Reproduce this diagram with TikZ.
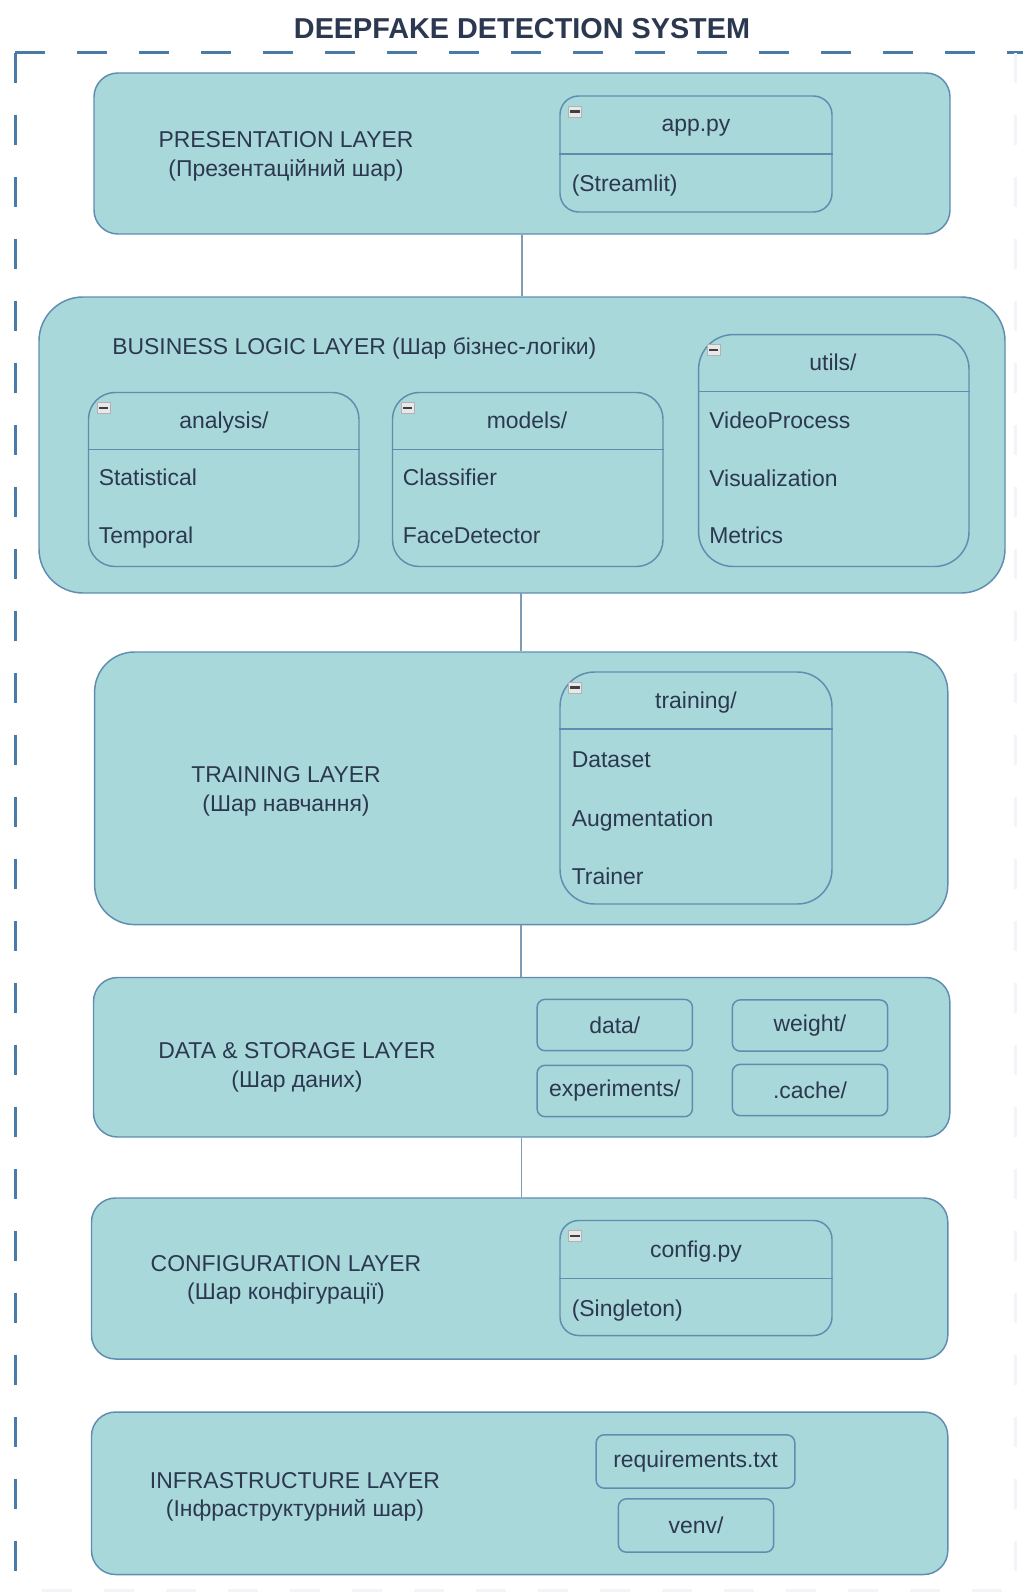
\documentclass[tikz,border=0pt]{standalone}
\usepackage{fontspec}
\setmainfont{Liberation Sans}
\usepackage{xcolor}
\usetikzlibrary{positioning,fit}
\definecolor{INK}{HTML}{2C3850}
\definecolor{TEAL}{HTML}{A8D8D9}
\definecolor{EDGE}{HTML}{5F8DB2}
\definecolor{DASH}{HTML}{4A7BA6}
\definecolor{WIRE}{HTML}{7F9DB2}

\begin{document}
\begin{tikzpicture}[
    x=0.75pt, y=-0.75pt,
    font=\fontsize{17.2}{20}\selectfont, text=INK,
    layerbox/.style={fill=TEAL, draw=EDGE, line width=1.1pt, rounded corners=18pt, inner sep=0pt},
    pkgbox/.style={draw=EDGE, line width=1.1pt, rounded corners=14pt, inner sep=0pt},
    divider/.style={draw=EDGE, line width=1.1pt},
    folder/.style={draw=EDGE, line width=1.1pt, rounded corners=6pt, minimum width=116.5pt, minimum height=38.5pt, inner sep=0pt},
    txt/.style={anchor=mid, inner sep=0pt},
    item/.style={anchor=mid west, inner sep=0pt},
    minusbox/.style={draw=gray!60, fill=gray!18, line width=0.4pt, minimum width=10pt, minimum height=8.5pt, inner sep=0pt,
      path picture={\fill[black!75] ([xshift=1.6pt,yshift=-0.9pt]path picture bounding box.west) rectangle ([xshift=-1.6pt,yshift=0.9pt]path picture bounding box.east);}},
    wire/.style={draw=WIRE, line width=1.1pt},
    dashframe/.style={draw=DASH, line width=2.25pt, dash pattern=on 22.5pt off 24pt},
  ]

  \useasboundingbox (0,0) rectangle (1023,1595);

  % title and outer frame
  \node[txt, font=\fontsize{21.6}{24}\selectfont\bfseries] (title) at (522,35) {DEEPFAKE DETECTION SYSTEM};
  \coordinate (frameTL) at (15,53);
  \draw[dashframe] (frameTL) -- (1030,53);
  \draw[dashframe] (frameTL) -- (15,1600);
  \draw[dashframe, draw=DASH!8] (1015,53) -- (1015,1590) -- (15,1590);

  % --- Presentation ---
  \node[layerbox, fit={(94,73) (950,234)}] (pres) {};
  \node[txt] (presName) at (286,144) {PRESENTATION LAYER};
  \node[txt] (presSub) at (286,173) {(Презентаційний шар)};
  \node[pkgbox, fit={(560,96) (832,212)}] (app) {};
  \draw[divider] (app.west |- 0,154) -- (app.east |- 0,154);
  \node[minusbox] (appMin) at (575,111.5) {};
  \node[txt] (appHead) at (696,128) {app.py};
  \node[item] (appBody) at (571.5,188) {(Streamlit)};

  % --- Business logic ---
  \node[layerbox, rounded corners=33pt, fit={(39,297) (1005,593)}] (biz) {};
  \node[item] (bizName) at (112,351) {BUSINESS LOGIC LAYER (Шар бізнес-логіки)};

  \node[pkgbox, rounded corners=20pt, fit={(88.5,392.5) (359,566.5)}] (analysis) {};
  \draw[divider] (analysis.west |- 0,449.5) -- (analysis.east |- 0,449.5);
  \node[minusbox] (analysisMin) at (103.5,408) {};
  \node[txt] (analysisHead) at (224,425) {analysis/};
  \node[item] (statItem) at (98.5,482) {Statistical};
  \node[item] (tempItem) at (98.5,540) {Temporal};

  \node[pkgbox, rounded corners=20pt, fit={(392.5,392.5) (663,566.5)}] (models) {};
  \draw[divider] (models.west |- 0,449.5) -- (models.east |- 0,449.5);
  \node[minusbox] (modelsMin) at (407.5,408) {};
  \node[txt] (modelsHead) at (527,425) {models/};
  \node[item] (clsItem) at (402.5,482) {Classifier};
  \node[item] (faceItem) at (402.5,540) {FaceDetector};

  \node[pkgbox, rounded corners=26pt, fit={(698.6,334.6) (969,566.5)}] (utils) {};
  \draw[divider] (utils.west |- 0,391.5) -- (utils.east |- 0,391.5);
  \node[minusbox] (utilsMin) at (713.6,350) {};
  \node[txt] (utilsHead) at (833,367) {utils/};
  \node[item] (videoItem) at (709,425) {VideoProcess};
  \node[item] (visItem) at (709,483) {Visualization};
  \node[item] (metItem) at (709,540) {Metrics};

  % --- Training ---
  \node[layerbox, rounded corners=30pt, fit={(94.6,652) (947.8,924.6)}] (train) {};
  \node[txt] (trainName) at (286,779) {TRAINING LAYER};
  \node[txt] (trainSub) at (286,808) {(Шар навчання)};
  \node[pkgbox, rounded corners=26pt, fit={(560,672) (832,904)}] (training) {};
  \draw[divider] (training.west |- 0,729) -- (training.east |- 0,729);
  \node[minusbox] (trainingMin) at (575,687.5) {};
  \node[txt] (trainingHead) at (696,705) {training/};
  \node[item] (dsItem) at (571.5,764) {Dataset};
  \node[item] (augItem) at (571.5,823) {Augmentation};
  \node[item] (trnItem) at (571.5,881) {Trainer};

  % --- Data & storage ---
  \node[layerbox, fit={(93.5,977.5) (949.8,1137)}] (data) {};
  \node[txt] (dataName) at (297,1055) {DATA \& STORAGE LAYER};
  \node[txt] (dataSub) at (297,1084) {(Шар даних)};
  \node[folder] (dataDir) at (614.75,1025) {data/};
  \node[folder] (weightDir) at (810,1025.5) {weight/};
  \node[folder] (expDir) at (614.75,1091) {experiments/};
  \node[folder] (cacheDir) at (810,1090) {.cache/};

  % --- Configuration ---
  \node[layerbox, fit={(91.5,1198) (947.8,1359)}] (conf) {};
  \node[txt] (confName) at (286,1268) {CONFIGURATION LAYER};
  \node[txt] (confSub) at (286,1296) {(Шар конфігурації)};
  \node[pkgbox, fit={(560,1220.5) (832,1335.5)}] (config) {};
  \draw[divider] (config.west |- 0,1278.5) -- (config.east |- 0,1278.5);
  \node[minusbox] (configMin) at (575,1236) {};
  \node[txt] (configHead) at (696,1254) {config.py};
  \node[item] (configBody) at (571.5,1313) {(Singleton)};

  % --- Infrastructure ---
  \node[layerbox, fit={(91.5,1412) (947.8,1574.5)}] (infra) {};
  \node[txt] (infraName) at (295,1485) {INFRASTRUCTURE LAYER};
  \node[txt] (infraSub) at (295,1513) {(Інфраструктурний шар)};
  \node[folder, minimum width=149pt, minimum height=40pt] (reqFile) at (695.5,1461.5) {requirements.txt};
  \node[folder, minimum height=40pt] (venvDir) at (696,1525.5) {venv/};

  % links between layers
  \draw[wire] (pres.south) -- (biz.north);
  \draw[wire] (biz.south) -- (train.south |- biz.south) -- (train.north);
  \draw[wire] (train.south) -- (train.south |- data.north);
  \draw[wire] (data.south) -- (data.south |- conf.north);

\end{tikzpicture}
\end{document}
